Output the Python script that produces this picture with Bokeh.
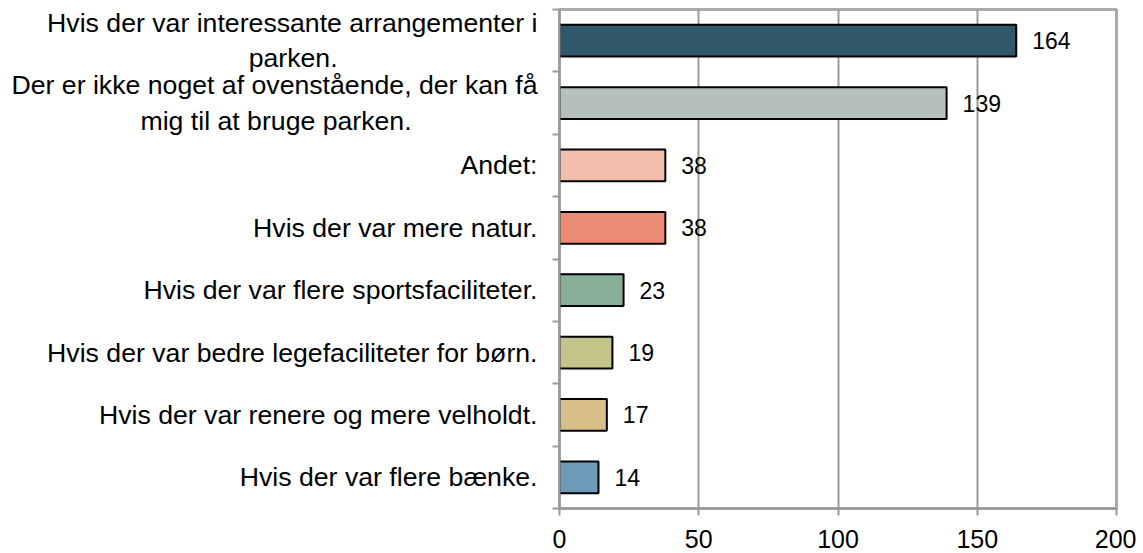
from bokeh.plotting import figure
from bokeh.models import FixedTicker, Range1d, ColumnDataSource
from bokeh.core.properties import value
from bokeh.embed import file_html
from bokeh.resources import INLINE

categories = [
    "Hvis der var interessante arrangementer i\nparken.",
    "Der er ikke noget af ovenstående, der kan få\nmig til at bruge parken.",
    "Andet:",
    "Hvis der var mere natur.",
    "Hvis der var flere sportsfaciliteter.",
    "Hvis der var bedre legefaciliteter for børn.",
    "Hvis der var renere og mere velholdt.",
    "Hvis der var flere bænke.",
]
counts = [164, 139, 38, 38, 23, 19, 17, 14]
colors = ["#31576a", "#b5bfbd", "#f3bdac", "#ec8b73", "#89ae98", "#c4c48a", "#d8bf88", "#6e9ab8"]
x_ticks = [0, 50, 100, 150, 200]

FONT = "Liberation Sans"
LABEL_PX = 26.67

# Arial / Liberation Sans advance widths (per 1000 em), used to centre wrapped lines
W = {" ": 278, "\u00a0": 278, ",": 278, ".": 278, ":": 278, "A": 667, "D": 722, "H": 722,
     "a": 556, "b": 556, "c": 500, "d": 556, "e": 556, "f": 278, "g": 556, "h": 556,
     "i": 222, "j": 222, "k": 500, "l": 222, "m": 833, "n": 556, "o": 556, "p": 556,
     "r": 333, "s": 500, "t": 278, "u": 556, "v": 500, "å": 556, "ø": 611, "æ": 889}


def text_w(s):
    return sum(W.get(ch, 556) for ch in s) / 1000 * LABEL_PX


def centred(cat):
    lines = cat.split("\n")
    if len(lines) == 1:
        return cat
    w1 = text_w(lines[0])
    out = [lines[0]]
    for ln in lines[1:]:
        pad = (w1 - text_w(ln)) / 2
        k = int(round(pad / (0.278 * LABEL_PX)))
        out.append(ln + "\u00a0" * k)
    return "\n".join(out)


n = len(categories)
ypos = [n - i - 0.5 for i in range(n)]
src = ColumnDataSource(dict(y=ypos, v=counts, c=colors, lab=[str(v) for v in counts]))

p = figure(width=1136, height=553, output_backend="svg", toolbar_location=None,
           x_range=Range1d(0, 200), y_range=Range1d(0, n),
           min_border_left=559, min_border_right=20, min_border_top=9, min_border_bottom=45)
p.frame_width = 557
p.frame_height = 499

p.hbar(y="y", right="v", left=0, height=0.51, source=src, fill_color="c",
       line_color="black", line_width=2)
p.text(x="v", y="y", text="lab", source=src, x_offset=16, text_align="left",
       text_baseline="middle", text_font=value(FONT), text_font_size="23px", text_color="black")

# x axis
p.xaxis.ticker = FixedTicker(ticks=x_ticks)
p.xaxis.axis_line_color = "#999999"
p.xaxis.axis_line_width = 2
p.xaxis.major_tick_line_color = "#999999"
p.xaxis.major_tick_line_width = 2
p.xaxis.major_tick_out = 7
p.xaxis.major_tick_in = 0
p.xaxis.minor_tick_line_color = None
p.xaxis.major_label_text_font = FONT
p.xaxis.major_label_text_font_size = "25px"
p.xaxis.major_label_text_color = "black"
p.xaxis.major_label_standoff = 14

# y axis: labels at category centres, ticks between categories
p.yaxis.ticker = FixedTicker(ticks=ypos, minor_ticks=list(range(n + 1)))
p.yaxis.major_label_overrides = {y: centred(c) for y, c in zip(ypos, categories)}
p.yaxis.axis_line_color = "#999999"
p.yaxis.axis_line_width = 2
p.yaxis.major_tick_line_color = None
p.yaxis.major_tick_out = 0
p.yaxis.major_tick_in = 0
p.yaxis.minor_tick_line_color = "#999999"
p.yaxis.minor_tick_line_width = 2
p.yaxis.minor_tick_out = 7
p.yaxis.minor_tick_in = 0
p.yaxis.major_label_text_font = FONT
p.yaxis.major_label_text_font_size = f"{LABEL_PX}px"
p.yaxis.major_label_text_color = "black"
p.yaxis.major_label_text_line_height = 1.18
p.yaxis.major_label_standoff = 15

p.xgrid.ticker = FixedTicker(ticks=x_ticks)
p.xgrid.grid_line_color = "#999999"
p.xgrid.grid_line_width = 2
p.ygrid.grid_line_color = None
p.outline_line_color = "#aaaaaa"
p.outline_line_width = 3
p.background_fill_color = "white"
p.border_fill_color = "white"

open("out.html", "w").write(file_html(p, INLINE))
